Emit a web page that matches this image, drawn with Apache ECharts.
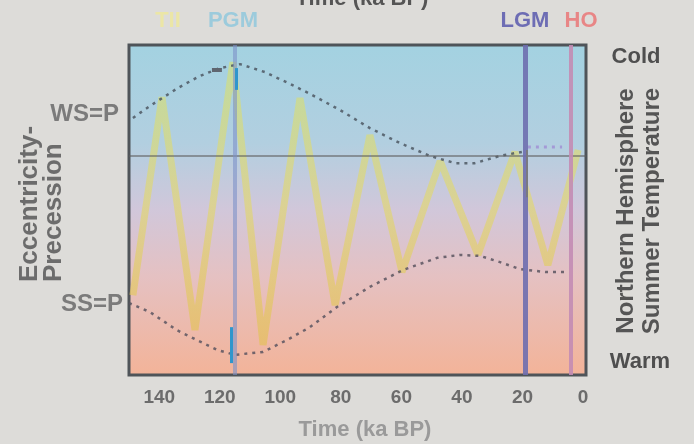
<!DOCTYPE html>
<html>
<head>
<meta charset="utf-8">
<title>Eccentricity-precession and NH summer temperature</title>
<script src="https://cdn.jsdelivr.net/npm/echarts@6/dist/echarts.min.js"></script>
<style>
  html, body { margin: 0; padding: 0; background: #dddcd9; }
  #chart { width: 694px; height: 444px; }
</style>
</head>
<body>
<div id="chart"></div>
<script>
// Time in ka BP; index is a relative scale (0 = warm / SS=P, 100 = cold / WS=P)
const precessionKa  = [148.7, 139.1, 128.2, 115.7, 105.7, 93.5, 81.9, 70.4, 59.8, 47.2, 34.7, 22.5, 11.6, 1.6];
const precessionVal = [24.2, 84.2, 13.6, 94.8, 9.1, 83.9, 21.2, 72.7, 31.2, 64.8, 36.4, 67.6, 33.3, 68.2];

const upperKa  = [148.7, 143.1, 133.8, 126.6, 120.0, 113.3, 105.1, 96.8, 90.2, 80.3, 70.4, 60.5, 50.6, 42.3, 35.7, 27.4, 20.2];
const upperVal = [77.9, 81.5, 87.0, 90.6, 93.0, 94.2, 91.8, 88.2, 85.2, 80.3, 74.8, 70.3, 66.4, 64.2, 64.2, 66.4, 67.6];

const upperLateKa  = [18.2, 6.9];
const upperLateVal = [69.1, 69.1];

const lowerKa  = [150, 143.1, 134.2, 127.6, 120.9, 115.0, 105.7, 97.8, 90.2, 81.3, 70.4, 59.5, 48.2, 40.6, 34.0, 27.4, 20.8, 12.5, 5.9];
const lowerVal = [21.8, 19.1, 13.6, 10.6, 7.6, 6.1, 7.0, 10.6, 14.5, 20.6, 26.7, 31.8, 35.5, 36.4, 36.1, 34.2, 32.1, 31.2, 31.2];

// marked events (ka BP)
const eventNames = ['PGM', 'LGM', 'HO'];
const eventKa    = [115, 19, 4];

const midlineVal = 66.4;
const timeTicks = [0, 20, 40, 60, 80, 100, 120, 140];

const zip = (xs, ys) => xs.map((x, i) => [x, ys[i]]);

const chart = echarts.init(document.getElementById('chart'), null, { renderer: 'canvas' });
const FONT = 'Liberation Sans, Arial, sans-serif';

const eventStyles = {
  PGM: { color: 'rgba(125,145,200,0.6)', width: 4 },
  LGM: { color: 'rgba(110,110,175,0.9)', width: 5 },
  HO:  { color: 'rgba(195,140,180,0.9)', width: 4 }
};

const option = {
  animation: false,
  backgroundColor: '#dddcd9',
  grid: {
    left: 129, right: 108, top: 45, bottom: 69,
    show: true,
    borderColor: '#4f5459',
    borderWidth: 3,
    backgroundColor: new echarts.graphic.LinearGradient(0, 0, 0, 1, [
      { offset: 0.0, color: '#a3d2e1' },
      { offset: 0.3, color: '#b2cfe0' },
      { offset: 0.5, color: '#d1c7da' },
      { offset: 0.7, color: '#e5c1c2' },
      { offset: 1.0, color: '#f3b398' }
    ])
  },
  xAxis: {
    type: 'value',
    inverse: true,
    min: -1,
    max: 150,
    axisLine: { show: false },
    axisTick: { show: false },
    splitLine: { show: false },
    axisLabel: {
      customValues: timeTicks,
      margin: 13,
      fontFamily: FONT,
      fontWeight: 'bold',
      fontSize: 19,
      color: '#6c6c6c'
    }
  },
  yAxis: {
    type: 'value',
    min: 0,
    max: 100,
    show: false
  },
  series: [
    {
      // event lines and horizontal reference, drawn behind the curves
      type: 'line',
      data: [],
      z: 2,
      silent: true,
      markLine: {
        silent: true,
        symbol: 'none',
        label: { show: false },
        animation: false,
        data: [
          { yAxis: midlineVal, lineStyle: { color: 'rgba(95,95,95,0.75)', width: 1.5, type: 'solid' } },
          ...eventNames.map((n, i) => ({
            xAxis: eventKa[i],
            lineStyle: { color: eventStyles[n].color, width: eventStyles[n].width, type: 'solid' }
          }))
        ]
      }
    },
    {
      name: 'Precession',
      type: 'line',
      data: zip(precessionKa, precessionVal),
      symbol: 'none',
      z: 3,
      lineStyle: {
        width: 7,
        opacity: 0.7,
        color: new echarts.graphic.LinearGradient(0, 0, 0, 1, [
          { offset: 0, color: '#cfdf80' },
          { offset: 0.5, color: '#e0d676' },
          { offset: 1, color: '#e4bf5a' }
        ])
      }
    },
    {
      name: 'Eccentricity (upper)',
      type: 'line',
      data: zip(upperKa, upperVal),
      symbol: 'none',
      z: 4,
      lineStyle: { color: '#4e5863', width: 2.5, type: [3, 5], opacity: 0.85 }
    },
    {
      name: 'Eccentricity (upper, late)',
      type: 'line',
      data: zip(upperLateKa, upperLateVal),
      symbol: 'none',
      z: 4,
      lineStyle: { color: '#a39ad6', width: 3, type: [3, 5] }
    },
    {
      name: 'Eccentricity (lower)',
      type: 'line',
      data: zip(lowerKa, lowerVal),
      symbol: 'none',
      z: 4,
      lineStyle: { color: '#5a5560', width: 2.5, type: [3, 5], opacity: 0.85 }
    },
    {
      // short PGM and LGM markers
      type: 'line',
      data: [],
      z: 5,
      silent: true,
      markLine: {
        silent: true,
        symbol: 'none',
        label: { show: false },
        animation: false,
        data: [
          [{ coord: [114.5, 93.0], lineStyle: { color: '#2f96cc', width: 3, type: 'solid' } }, { coord: [114.5, 86.4] }],
          [{ coord: [116.2, 14.5], lineStyle: { color: '#2f96cc', width: 3, type: 'solid' } }, { coord: [116.2, 3.6] }],
          [{ coord: [122.6, 92.4], lineStyle: { color: '#5f6670', width: 4, type: 'solid' } }, { coord: [119.3, 92.4] }],
          [{ coord: [18.5, 68.2], lineStyle: { color: '#7a7a80', width: 2, type: 'solid' } }, { coord: [18.5, 53.9] }]
        ]
      }
    }
  ],
  graphic: [
    { type: 'text', x: 362, y: -1, style: { text: 'Time (ka BP)', fill: '#555', font: 'bold 22px ' + FONT, align: 'center', verticalAlign: 'middle' } },
    { type: 'text', x: 168, y: 21, style: { text: 'TII', fill: '#ebe6a6', font: 'bold 22px ' + FONT, align: 'center', verticalAlign: 'middle' } },
    { type: 'text', x: 233, y: 21, style: { text: 'PGM', fill: '#9ccbdc', font: 'bold 22px ' + FONT, align: 'center', verticalAlign: 'middle' } },
    { type: 'text', x: 525, y: 21, style: { text: 'LGM', fill: '#6d6db4', font: 'bold 22px ' + FONT, align: 'center', verticalAlign: 'middle' } },
    { type: 'text', x: 581, y: 21, style: { text: 'HO', fill: '#e88686', font: 'bold 22px ' + FONT, align: 'center', verticalAlign: 'middle' } },
    { type: 'text', x: 636, y: 57, style: { text: 'Cold', fill: '#4f4f4f', font: 'bold 22px ' + FONT, align: 'center', verticalAlign: 'middle' } },
    { type: 'text', x: 640, y: 362, style: { text: 'Warm', fill: '#4f4f4f', font: 'bold 22px ' + FONT, align: 'center', verticalAlign: 'middle' } },
    { type: 'text', x: 639, y: 211, rotation: Math.PI / 2,
      style: { text: 'Northern Hemisphere\nSummer Temperature', fill: '#555', font: 'bold 24px ' + FONT, lineHeight: 26, align: 'center', verticalAlign: 'middle' } },
    { type: 'text', x: 119, y: 114, style: { text: 'WS=P', fill: '#7b7b7b', font: 'bold 24px ' + FONT, align: 'right', verticalAlign: 'middle' } },
    { type: 'text', x: 123, y: 304, style: { text: 'SS=P', fill: '#7b7b7b', font: 'bold 24px ' + FONT, align: 'right', verticalAlign: 'middle' } },
    { type: 'text', x: 42, y: 282, rotation: Math.PI / 2,
      style: { text: 'Eccentricity-\nPrecession', fill: '#6c6c6c', font: 'bold 26px ' + FONT, lineHeight: 24, align: 'left', verticalAlign: 'middle' } },
    { type: 'text', x: 365, y: 430, style: { text: 'Time (ka BP)', fill: '#9a9a9a', font: 'bold 22px ' + FONT, align: 'center', verticalAlign: 'middle' } }
  ]
};

chart.setOption(option);
</script>
</body>
</html>
